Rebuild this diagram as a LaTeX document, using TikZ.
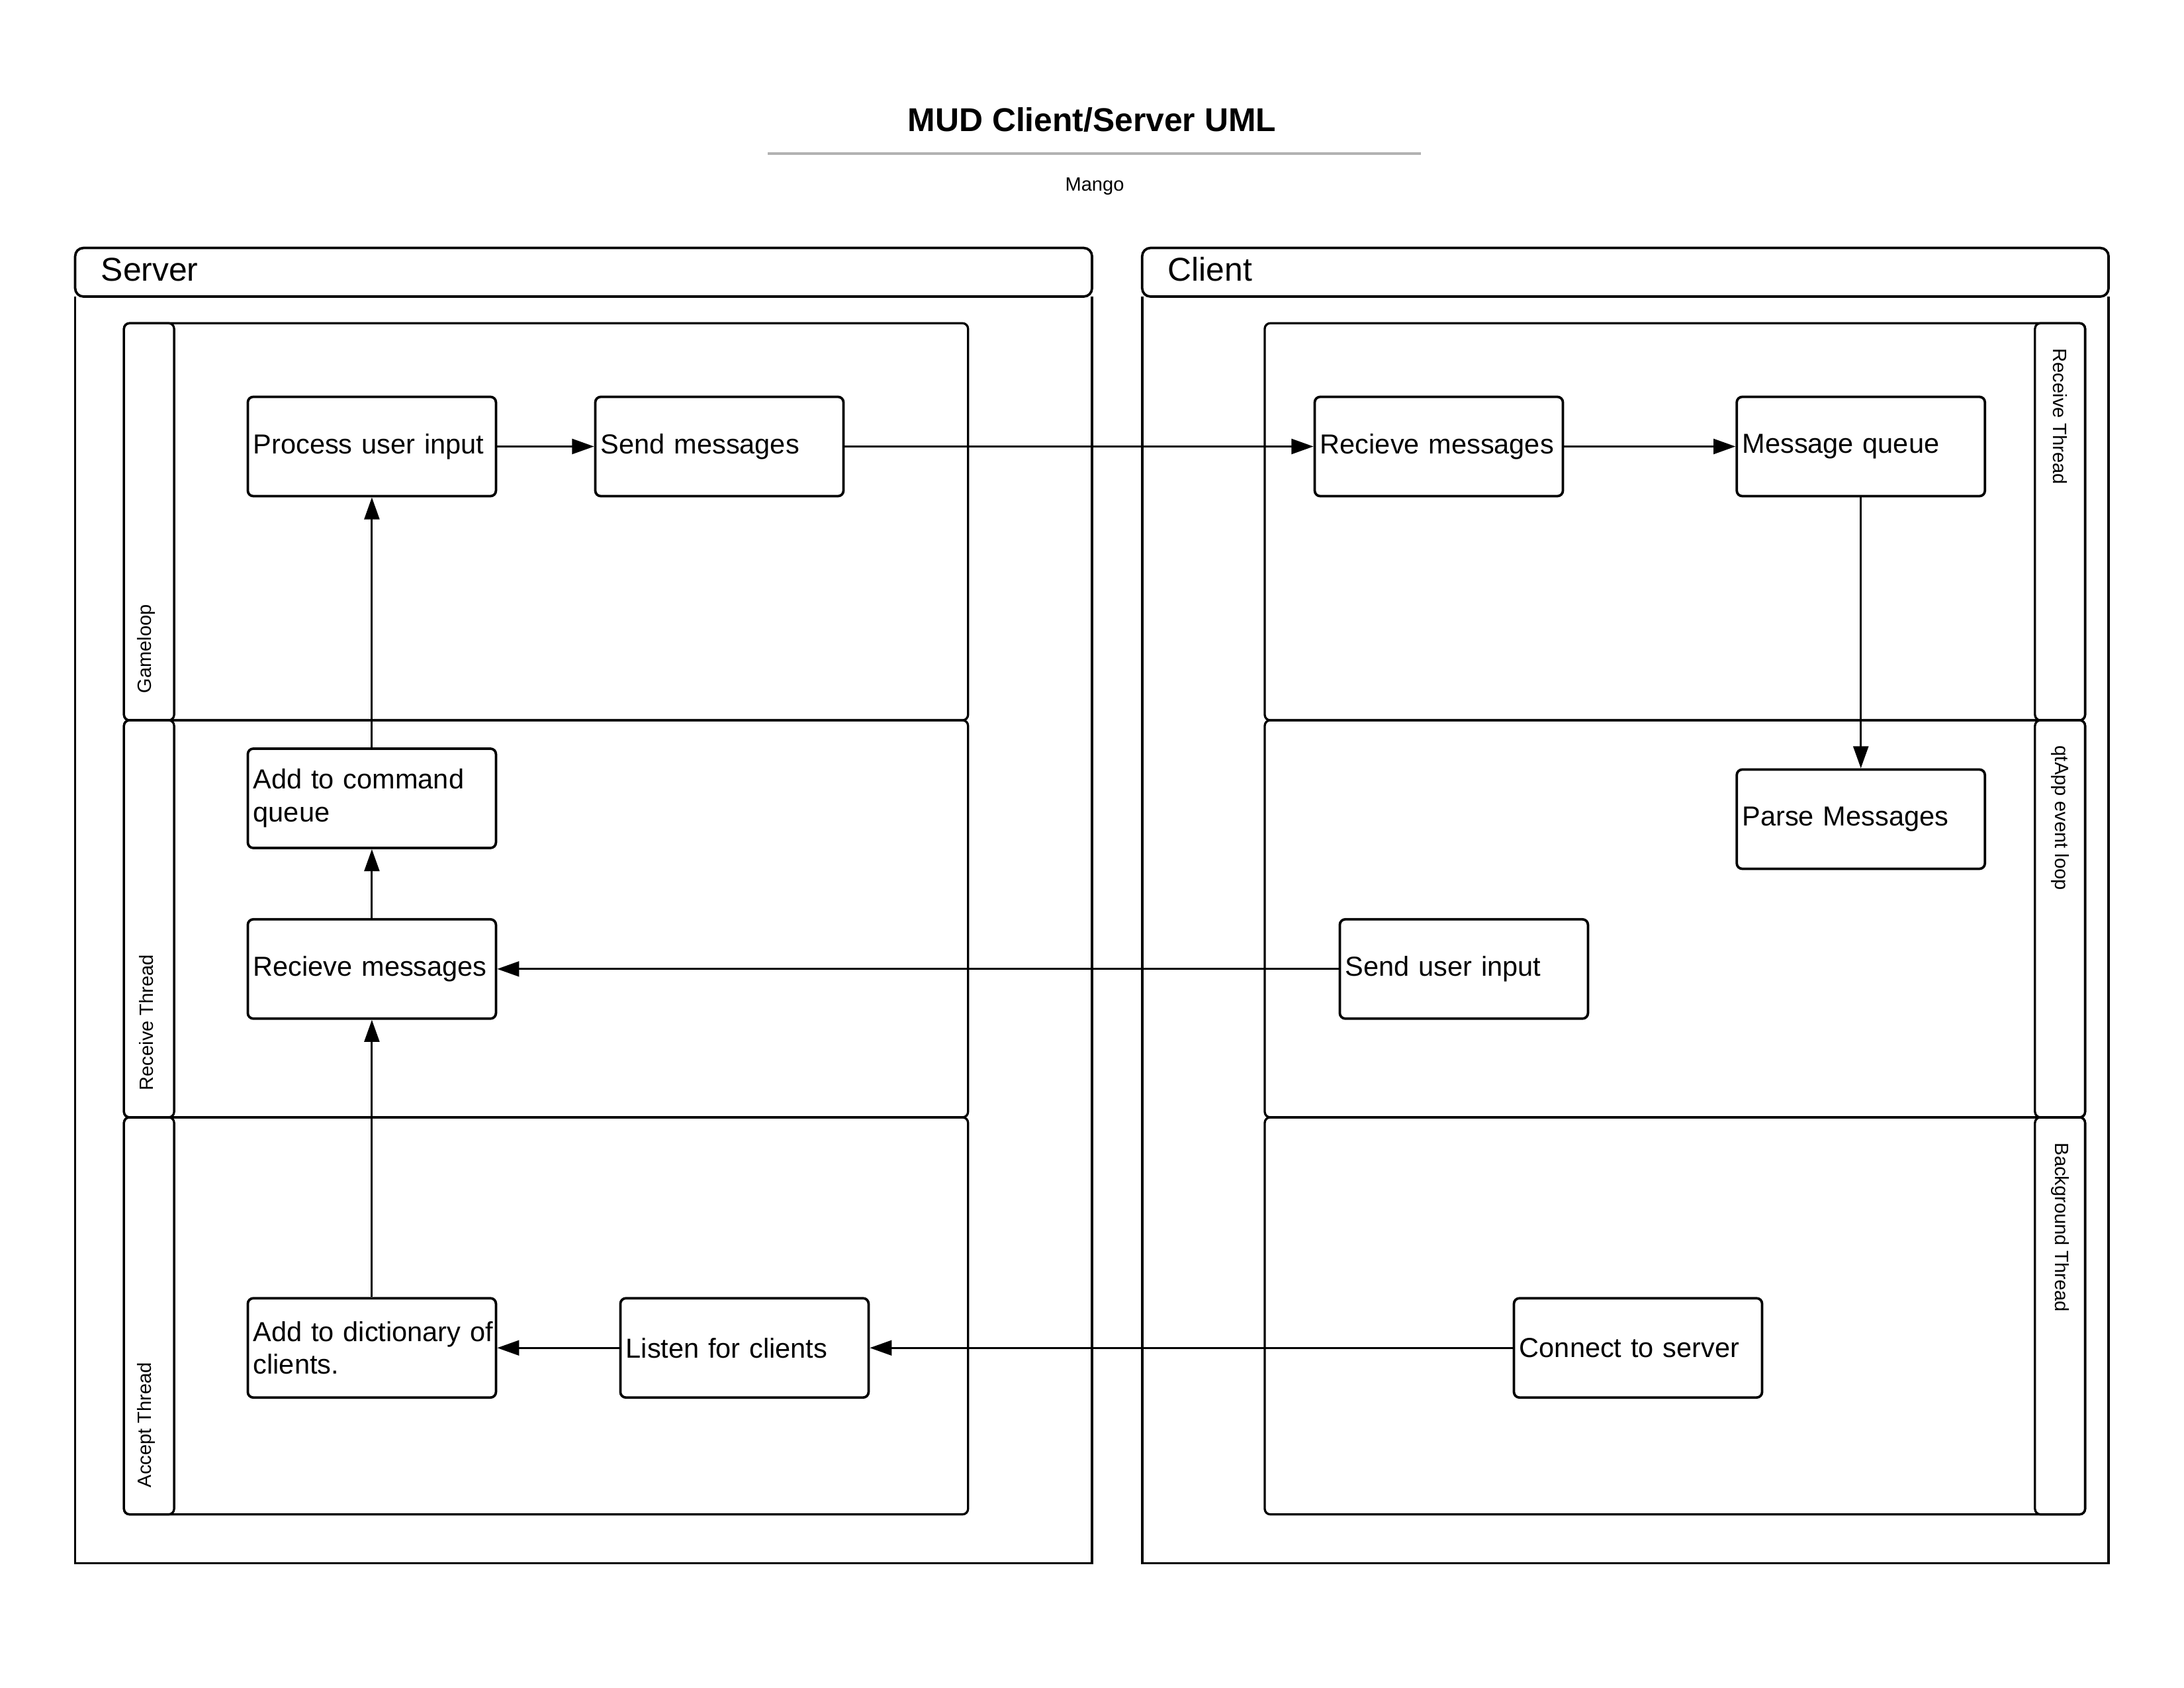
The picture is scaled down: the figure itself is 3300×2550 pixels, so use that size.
\documentclass[tikz,border=0pt]{standalone}
\usepackage{fontspec}
\setmainfont{Liberation Sans}
\usetikzlibrary{arrows.meta}
\definecolor{rulegray}{RGB}{178,178,178}
\begin{document}
\begin{tikzpicture}[x=0.2409pt, y=-0.2409pt,
  frameline/.style={draw, line width=0.9pt},
  lanebox/.style={draw, line width=0.8pt, rounded corners=2pt},
  stepbox/.style={draw, line width=0.9pt, rounded corners=2pt,
    minimum width=1.25in, minimum height=0.5in, text width=86.3pt,
    align=left, inner xsep=2pt, font=\fontsize{10}{12}\selectfont},
  flow/.style={-{Triangle[length=8pt,width=5.5pt]}, line width=0.7pt},
  lanelabel/.style={font=\fontsize{7}{8}\selectfont, inner sep=0pt},
  framelabel/.style={font=\fontsize{12}{14}\selectfont, inner sep=0pt, anchor=west}]
\useasboundingbox (0,0) rectangle (3300,2550);

% title block
\node[font=\bfseries\fontsize{12}{14}\selectfont] (title) at (1650,181) {MUD Client/Server UML};
\draw[rulegray, line width=0.8pt] (1160,232) -- (2147,232);
\node[font=\fontsize{7}{8}\selectfont] (author) at (1654,282) {Mango};

% server frame
\draw[frameline, rounded corners=3pt] (113.6,374.6) rectangle (1650,448);
\draw[frameline] (113.6,448) -- (113.6,2361.5) -- (1650,2361.5) -- (1650,448);
\node[framelabel] (server) at (152,407) {Server};

% client frame
\draw[frameline, rounded corners=3pt] (1725.8,374.6) rectangle (3186,448);
\draw[frameline] (1725.8,448) -- (1725.8,2361.5) -- (3186,2361.5) -- (3186,448);
\node[framelabel] (client) at (1764,407) {Client};

% server swimlanes
\foreach \top/\bot in {488.3/1088.1, 1088.1/1687.9, 1687.9/2287.7} {
  \draw[lanebox] (187.3,\top) rectangle (1462.7,\bot);
  \draw[lanebox] (187.3,\top) rectangle (263.1,\bot);
}
\node[lanelabel, rotate=90, anchor=west] (gameloop) at (221,1048) {Gameloop};
\node[lanelabel, rotate=90, anchor=west] (srecv) at (221,1648) {Receive Thread};
\node[lanelabel, rotate=90, anchor=west] (accept) at (221,2248) {Accept Thread};

% client swimlanes
\foreach \top/\bot in {488.3/1088.1, 1088.1/1687.9, 1687.9/2287.7} {
  \draw[lanebox] (1911,\top) rectangle (3150.6,\bot);
  \draw[lanebox] (3074.8,\top) rectangle (3150.6,\bot);
}
\node[lanelabel, rotate=-90, anchor=west] (crecv) at (3113,526) {Receive Thread};
\node[lanelabel, rotate=-90, anchor=west] (qtloop) at (3113,1126) {qtApp event loop};
\node[lanelabel, rotate=-90, anchor=west] (bgthread) at (3113,1726) {Background Thread};

% server steps
\node[stepbox] (process) at (561.9,674.5) {Process user input};
\node[stepbox] (send) at (1087,674.5) {Send messages};
\node[stepbox] (addcmd) at (561.9,1206) {Add to command\\queue};
\node[stepbox] (recvs) at (561.9,1463.8) {Recieve messages};
\node[stepbox] (adddict) at (561.9,2036.2) {\mbox{Add to dictionary of}\\clients.};
\node[stepbox] (listen) at (1124.9,2036.2) {Listen for clients};

% client steps
\node[stepbox] (recvc) at (2174,674.5) {Recieve messages};
\node[stepbox] (queue) at (2811.7,674.5) {Message queue};
\node[stepbox] (parse) at (2811.7,1237.5) {Parse Messages};
\node[stepbox] (sendin) at (2211.9,1463.8) {Send user input};
\node[stepbox] (connect) at (2475,2036.2) {Connect to server};

% flows
\draw[flow] (process) -- (send);
\draw[flow] (send) -- (recvc);
\draw[flow] (recvc) -- (queue);
\draw[flow] (queue) -- (parse);
\draw[flow] (sendin) -- (recvs);
\draw[flow] (recvs) -- (addcmd);
\draw[flow] (addcmd) -- (process);
\draw[flow] (adddict) -- (recvs);
\draw[flow] (listen) -- (adddict);
\draw[flow] (connect) -- (listen);
\end{tikzpicture}
\end{document}
